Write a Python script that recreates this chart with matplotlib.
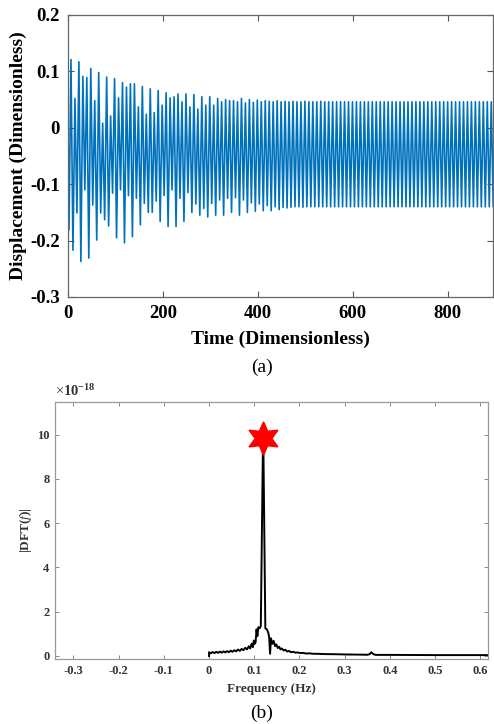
import numpy as np
import matplotlib
matplotlib.use('Agg')
import matplotlib.pyplot as plt

plt.rcParams['font.family'] = ['Liberation Serif', 'DejaVu Serif']
plt.rcParams['mathtext.fontset'] = 'custom'
plt.rcParams['mathtext.rm'] = 'Liberation Serif'
plt.rcParams['mathtext.it'] = 'Liberation Serif:italic'
plt.rcParams['mathtext.bf'] = 'Liberation Serif:bold'

# (a) displacement: one peak and one trough per cycle
period = 8.35
upper_peaks = [
    0.121, 0.052, 0.117, 0.091, 0.089, 0.105, 0.048, 0.098, 0.008, 0.090,
    0.021, 0.087, 0.053, 0.080, 0.072, 0.078, 0.078, 0.037, 0.073, 0.024,
    0.069, 0.027, 0.066, 0.040, 0.062, 0.053, 0.055, 0.060, 0.046, 0.060,
    0.037, 0.059, 0.033, 0.055, 0.040, 0.055, 0.040, 0.052, 0.046, 0.050,
    0.048, 0.048, 0.046, 0.052, 0.044, 0.050, 0.045, 0.049, 0.046, 0.048,
    0.047, 0.046, 0.048, 0.046, 0.047, 0.046, 0.047, 0.046, 0.046, 0.047,
    0.046, 0.046, 0.046, 0.047, 0.046, 0.046, 0.046, 0.046, 0.046, 0.046,
    0.046, 0.046, 0.046, 0.046, 0.046, 0.046, 0.046, 0.046, 0.046, 0.046,
    0.046, 0.046, 0.046, 0.046, 0.046, 0.046, 0.046, 0.046, 0.046, 0.046,
    0.046, 0.046, 0.046, 0.046, 0.046, 0.046, 0.046, 0.046, 0.046, 0.046,
    0.046, 0.046, 0.046, 0.046, 0.046, 0.046, 0.046, 0.046, 0.046, 0.046,
]
lower_troughs = [
    -0.181, -0.217, -0.151, -0.237, -0.110, -0.231, -0.137, -0.199, -0.151, -0.163,
    -0.174, -0.116, -0.195, -0.110, -0.204, -0.120, -0.193, -0.125, -0.172, -0.134,
    -0.150, -0.150, -0.130, -0.166, -0.120, -0.175, -0.110, -0.175, -0.125, -0.166,
    -0.115, -0.150, -0.135, -0.155, -0.143, -0.158, -0.134, -0.155, -0.128, -0.155,
    -0.125, -0.150, -0.124, -0.155, -0.128, -0.150, -0.133, -0.148, -0.135, -0.147,
    -0.138, -0.147, -0.140, -0.145, -0.141, -0.142, -0.141, -0.140, -0.140, -0.141,
    -0.140, -0.140, -0.140, -0.140, -0.140, -0.140, -0.140, -0.140, -0.140, -0.140,
    -0.140, -0.140, -0.140, -0.140, -0.140, -0.140, -0.140, -0.140, -0.140, -0.140,
    -0.140, -0.140, -0.140, -0.140, -0.140, -0.140, -0.140, -0.140, -0.140, -0.140,
    -0.140, -0.140, -0.140, -0.140, -0.140, -0.140, -0.140, -0.140, -0.140, -0.140,
    -0.140, -0.140, -0.140, -0.140, -0.140, -0.140, -0.140, -0.140, -0.140, -0.140,
]

# (b) DFT magnitude (x 1e-18)
freq = [0.000, 0.000, 0.004, 0.008, 0.012, 0.016, 0.020, 0.024, 0.028, 0.032,
        0.036, 0.040, 0.044, 0.048, 0.052, 0.056, 0.060, 0.064, 0.068, 0.072,
        0.076, 0.080, 0.084, 0.088, 0.091, 0.094, 0.097, 0.099, 0.101, 0.103,
        0.105, 0.107, 0.109, 0.112, 0.1145, 0.1197, 0.1245, 0.128, 0.131, 0.133,
        0.135, 0.137, 0.140, 0.143, 0.146, 0.149, 0.152, 0.155, 0.158, 0.161,
        0.165, 0.169, 0.173, 0.177, 0.181, 0.186, 0.191, 0.196, 0.202, 0.208,
        0.215, 0.222, 0.230, 0.240, 0.250, 0.260, 0.280, 0.300, 0.320, 0.340,
        0.350, 0.355, 0.359, 0.363, 0.368, 0.400, 0.450, 0.500, 0.550, 0.600,
        0.620]
dft_mag = [0.00, 0.17, 0.12, 0.18, 0.13, 0.19, 0.14, 0.20, 0.15, 0.21,
           0.16, 0.22, 0.17, 0.24, 0.19, 0.26, 0.21, 0.29, 0.23, 0.32,
           0.26, 0.37, 0.30, 0.44, 0.34, 0.55, 0.40, 0.70, 0.55, 0.62,
           1.20, 0.90, 1.30, 1.25, 1.35, 10.45, 1.25, 1.20, 1.05, 0.85,
           0.10, 0.80, 0.55, 0.68, 0.45, 0.52, 0.36, 0.42, 0.30, 0.34,
           0.25, 0.28, 0.20, 0.23, 0.17, 0.19, 0.15, 0.16, 0.13, 0.14,
           0.11, 0.12, 0.10, 0.10, 0.09, 0.085, 0.08, 0.07, 0.065, 0.06,
           0.055, 0.08, 0.17, 0.09, 0.05, 0.05, 0.045, 0.04, 0.04, 0.04,
           0.04]
peak_freq = 0.12
peak_mark = 9.85

n = min(len(upper_peaks), len(lower_troughs))
t = [0.0]
x = [0.0]
for k in range(n):
    t.append(2.0 + period * k)
    x.append(lower_troughs[k])
    t.append(6.2 + period * k)
    x.append(upper_peaks[k])

fig = plt.figure(figsize=(4.94, 7.24), dpi=100)

# ---- (a)
ax1 = fig.add_axes([0.1377, 0.5898, 0.8603, 0.3895])
ax1.plot(t, x, color='#0072BD', lw=1.2)
ax1.set_xlim(0, 895)
ax1.set_ylim(-0.3, 0.2)
ax1.set_xticks([0, 200, 400, 600, 800])
ax1.set_yticks([-0.3, -0.2, -0.1, 0, 0.1, 0.2])
ax1.set_yticklabels(['-0.3', '-0.2', '-0.1', '0', '0.1', '0.2'])
ax1.tick_params(direction='in', length=4, width=0.8, color='#555555',
                top=True, right=True, labelsize=13.5, pad=6)
for lab in ax1.get_xticklabels() + ax1.get_yticklabels():
    lab.set_fontweight('bold')
for s in ax1.spines.values():
    s.set_color('#666666')
    s.set_linewidth(0.9)
ax1.set_xlabel('Time (Dimensionless)', fontsize=14, fontweight='bold', labelpad=6)
ax1.set_ylabel('Displacement (Dimensionless)', fontsize=14, fontweight='bold', labelpad=2)
fig.text(0.53, 1 - 367 / 724, '(a)', ha='center', va='center', fontsize=14)

# ---- (b)
ax2 = fig.add_axes([0.1113, 0.0898, 0.8766, 0.355])
ax2.plot(freq, dft_mag, color='black', lw=1.4)
ax2.plot([peak_freq], [peak_mark], marker=(6, 1, 0), ms=24, color='red',
         markeredgecolor='red', linestyle='none')
ax2.set_xlim(-0.3407, 0.617)
ax2.set_ylim(-0.135, 11.47)
ax2.set_xticks([-0.3, -0.2, -0.1, 0, 0.1, 0.2, 0.3, 0.4, 0.5, 0.6])
ax2.set_xticklabels(['-0.3', '-0.2', '-0.1', '0', '0.1', '0.2', '0.3', '0.4', '0.5', '0.6'])
ax2.set_yticks([0, 2, 4, 6, 8, 10])
ax2.tick_params(direction='in', length=3, width=0.7, color='#888888',
                top=True, right=True, labelsize=9, labelcolor='#333333', pad=4)
for lab in ax2.get_xticklabels() + ax2.get_yticklabels():
    lab.set_fontweight('bold')
for s in ax2.spines.values():
    s.set_color('#999999')
    s.set_linewidth(0.9)
ax2.set_xlabel('Frequency (Hz)', fontsize=9.5, fontweight='bold', color='#333333', labelpad=5)
ax2.set_ylabel(r'|DFT($\mathit{f}$)|', fontsize=9.5, fontweight='bold', color='#333333', labelpad=2)
ax2.text(0.0, 1.012, r'$\times\mathbf{10^{-18}}$', transform=ax2.transAxes,
         ha='left', va='bottom', fontsize=10.5, color='#333333')
fig.text(0.53, 1 - 713 / 724, '(b)', ha='center', va='center', fontsize=14)

fig.savefig('out.png', dpi=100)
